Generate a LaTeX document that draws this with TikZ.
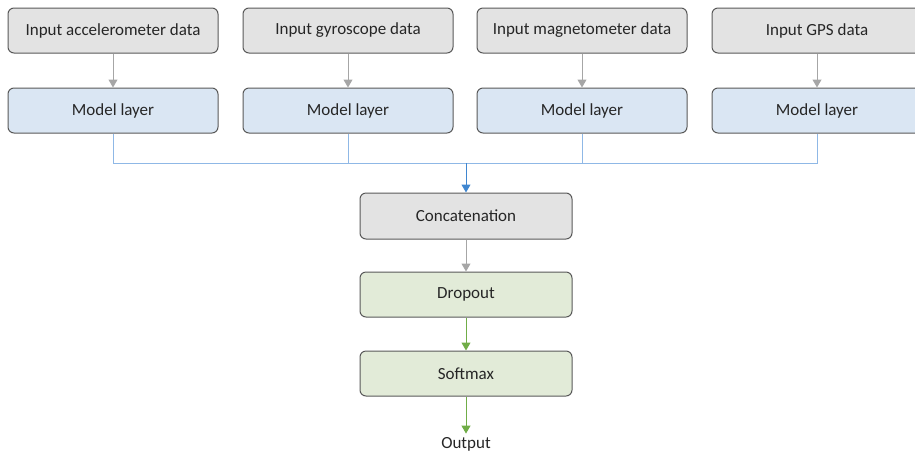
\documentclass[tikz,border=0pt]{standalone}
\usepackage{fontspec}
\setmainfont{Carlito}
\usepackage{xcolor}
\usetikzlibrary{arrows.meta,positioning}

\definecolor{boxgray}{HTML}{E3E3E3}
\definecolor{boxblue}{HTML}{DAE6F3}
\definecolor{boxgreen}{HTML}{E2EBD8}
\definecolor{edgegray}{HTML}{595959}
\definecolor{arrgray}{HTML}{A6A6A6}
\definecolor{linkblue}{HTML}{8FB8E6}
\definecolor{arrblue}{HTML}{3F86D0}
\definecolor{arrgreen}{HTML}{70AD47}

\tikzset{
  block/.style={draw=edgegray, line width=1pt, rounded corners=6pt,
    minimum width=210pt, minimum height=45pt, inner sep=0pt,
    font=\fontsize{17}{20}\selectfont, text=black!85},
  inbox/.style={block, fill=boxgray},
  layerbox/.style={block, fill=boxblue},
  headbox/.style={block, fill=boxgreen},
  grayarr/.style={draw=arrgray, line width=1pt, -{Triangle[length=8pt,width=9pt]}},
  greenarr/.style={draw=arrgreen, line width=1pt, -{Triangle[length=8pt,width=9pt]}},
}

\begin{document}
\begin{tikzpicture}[x=1pt, y=-1pt]
  \useasboundingbox (0,0) rectangle (915,456);
  \clip (0,0) rectangle (915,456);

  % inputs and their model layers
  \foreach \nm/\cx/\txt in {acc/113/accelerometer, gyr/348/gyroscope, mag/582/magnetometer, gps/817/GPS} {
    \node[inbox] (in-\nm) at (\cx,30.5) {Input \txt{} data};
    \node[layerbox] (ml-\nm) at (\cx,110.5) {Model layer};
    \draw[grayarr] (in-\nm) -- (ml-\nm);
  }

  % merge
  \node[inbox, minimum width=212pt, minimum height=46pt] (concat) at (466,216) {Concatenation};
  \coordinate (join) at (466,163);
  \draw[linkblue, line width=1pt] (ml-acc.south) |- (ml-gps.south |- join) -- (ml-gps.south);
  \draw[linkblue, line width=1pt] (ml-gyr.south) -- (ml-gyr.south |- join);
  \draw[linkblue, line width=1pt] (ml-mag.south) -- (ml-mag.south |- join);
  \draw[arrblue, line width=1pt, -{Triangle[length=8pt,width=9pt]}] (join) -- (concat);

  % head
  \node[headbox, minimum width=212pt] (drop) at (466,294.5) {Dropout};
  \node[headbox, minimum width=212pt] (soft) at (466,373.5) {Softmax};
  \node[font=\fontsize{17}{20}\selectfont, text=black!85] (out) at (466,444) {Output};
  \draw[grayarr] (concat) -- (drop);
  \draw[greenarr] (drop) -- (soft);
  \draw[greenarr] (soft) -- (out);
\end{tikzpicture}
\end{document}
